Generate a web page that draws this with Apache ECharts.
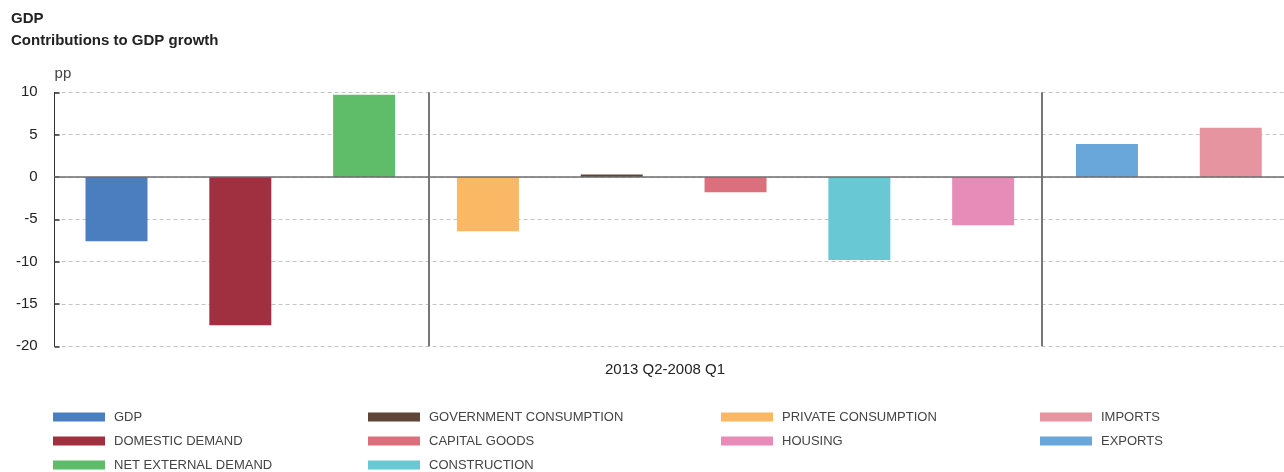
<!DOCTYPE html>
<html>
<head>
<meta charset="utf-8">
<script src="https://cdn.jsdelivr.net/npm/echarts@6/dist/echarts.min.js"></script>
<style>
  html, body { margin: 0; padding: 0; background: #fff; }
  #chart { width: 1284px; height: 472px; }
</style>
</head>
<body>
<div id="chart"></div>
<script>
// Contributions to GDP growth, cumulative 2008 Q1 – 2013 Q2 (percentage points)
const categories = [
  'GDP', 'DOMESTIC DEMAND', 'NET EXTERNAL DEMAND',
  'PRIVATE CONSUMPTION', 'GOVERNMENT CONSUMPTION', 'CAPITAL GOODS',
  'CONSTRUCTION', 'HOUSING', 'EXPORTS', 'IMPORTS'
];
const values = [-7.6, -17.5, 9.7, -6.4, 0.3, -1.8, -9.8, -5.7, 3.9, 5.8];
const barColors = [
  '#4a7ebf', '#a02f40', '#5fbd6a', '#fbb864', '#5e4537',
  '#db6f7c', '#68c8d4', '#e78bb9', '#69a6d9', '#e695a0'
];
const yTicks = { min: -20, max: 10, interval: 5 };
const periodLabel = '2013 Q2-2008 Q1';
// Slot positions: bar i sits at x = i; the last slot runs a little past the right edge
const xRange = { min: -0.5, max: 9.43 };
// Group separators between slots
const groupBreaks = [2.52, 7.47];

// Legend columns, read top to bottom
const legendColumns = [
  ['GDP', 'DOMESTIC DEMAND', 'NET EXTERNAL DEMAND'],
  ['GOVERNMENT CONSUMPTION', 'CAPITAL GOODS', 'CONSTRUCTION'],
  ['PRIVATE CONSUMPTION', 'HOUSING'],
  ['IMPORTS', 'EXPORTS']
];
const legendLeft = [53, 368, 721, 1040];
const legendRowTop = [409, 433, 457];

const sans = '"Liberation Sans", Arial, Helvetica, sans-serif';

const chart = echarts.init(document.getElementById('chart'), null, { renderer: 'canvas' });

const barSeries = categories.map((name, i) => ({
  name,
  type: 'bar',
  stack: 'total',
  barWidth: 62,
  itemStyle: { color: barColors[i] },
  data: [[i, values[i]]]
}));

const dividerSeries = {
  name: 'divider',
  type: 'line',
  data: [],
  silent: true,
  markLine: {
    silent: true,
    symbol: 'none',
    label: { show: false },
    lineStyle: { color: '#777', width: 2, type: 'solid' },
    emphasis: { disabled: true },
    data: groupBreaks.map(x => ({ xAxis: x }))
  }
};

// One legend block per entry so each sits in its own column/row slot
const legends = [];
legendColumns.forEach((col, c) => {
  col.forEach((name, r) => {
    legends.push({
      data: [name],
      orient: 'horizontal',
      left: legendLeft[c],
      top: legendRowTop[r],
      padding: 0,
      itemWidth: 52,
      itemHeight: 9,
      icon: 'rect',
      selectedMode: false,
      textStyle: { fontFamily: sans, fontSize: 13, color: '#444', lineHeight: 16, padding: [0, 0, 0, 4] }
    });
  });
});

chart.setOption({
  animation: false,
  backgroundColor: '#fff',
  title: [
    {
      text: 'GDP\nContributions to GDP growth',
      left: 11, top: 8, padding: 0,
      textStyle: { fontFamily: sans, fontSize: 15, fontWeight: 'bold', color: '#222', lineHeight: 22 }
    },
    {
      text: periodLabel,
      left: 665, top: 362, padding: 0, textAlign: 'center',
      textStyle: { fontFamily: sans, fontSize: 15, fontWeight: 'normal', color: '#222' }
    }
  ],
  legend: legends,
  grid: { left: 54.6, right: 0, top: 92.3, bottom: 125.7, containLabel: false },
  xAxis: {
    type: 'value',
    min: xRange.min, max: xRange.max,
    z: 5,
    axisLine: { show: true, onZero: true, lineStyle: { color: '#6e6e6e', width: 1.5 } },
    axisTick: { show: false },
    axisLabel: { show: false },
    splitLine: { show: false }
  },
  yAxis: {
    type: 'value',
    min: yTicks.min, max: yTicks.max, interval: yTicks.interval,
    name: 'pp',
    nameLocation: 'end',
    nameGap: 11,
    nameTextStyle: { fontFamily: sans, fontSize: 15, color: '#444', align: 'left' },
    axisLine: { show: true, onZero: false, lineStyle: { color: '#333', width: 1 } },
    axisTick: { show: true, inside: true, length: 5, lineStyle: { color: '#333', width: 1.5 } },
    axisLabel: { fontFamily: sans, fontSize: 15, color: '#222', margin: 17 },
    splitLine: { show: true, lineStyle: { color: '#c4c4c4', type: [4, 3], width: 1 } }
  },
  series: [...barSeries, dividerSeries]
});
</script>
</body>
</html>
